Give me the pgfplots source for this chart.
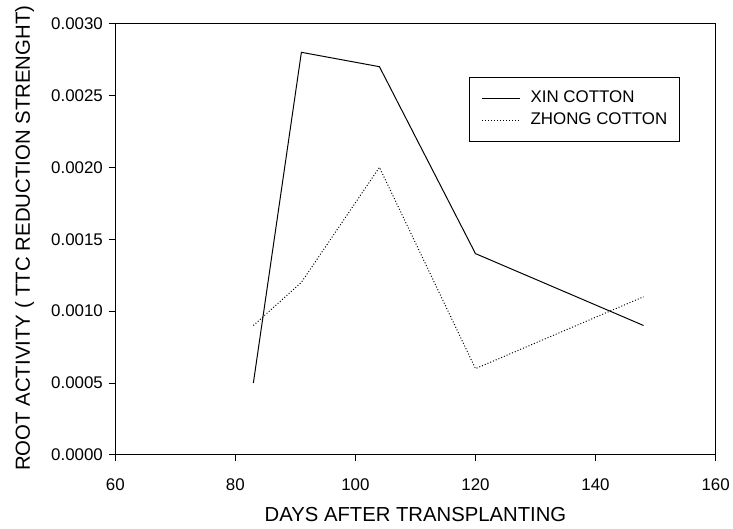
\documentclass[border=0pt]{standalone}
\usepackage{pgfplots}
\pgfplotsset{compat=1.18}
\usepackage{fontspec}
\setmainfont{Liberation Sans}
\begin{document}
\begin{tikzpicture}
\begin{axis}[
  name=ax,
  scale only axis,
  width=604bp, height=434bp,
  xmin=60, xmax=160, ymin=0, ymax=0.003,
  xtick={60,80,100,120,140,160},
  ytick={0,0.0005,0.001,0.0015,0.002,0.0025,0.003},
  yticklabel style={/pgf/number format/fixed, /pgf/number format/fixed zerofill, /pgf/number format/precision=4, xshift=-2.5bp},
  /pgf/number format/assume math mode=true,
  scaled y ticks=false,
  tick align=outside,
  xtick pos=bottom, ytick pos=left,
  major tick length=6.5bp,
  tick style={black, line width=0.9pt},
  axis line style={line width=1pt},
  ticklabel style={font=\fontsize{17bp}{20bp}\selectfont},
  xticklabel style={yshift=-13.5bp},
  xlabel={DAYS AFTER TRANSPLANTING},
  ylabel={ROOT ACTIVITY ( TTC REDUCTION STRENGHT)},
  every axis x label/.style={at={(0.5,0)}, anchor=base, yshift=-67.3bp, font=\fontsize{20.4bp}{24bp}\selectfont},
  every axis y label/.style={at={(0,0.5)}, rotate=90, anchor=base, yshift=86bp, xshift=1bp, font=\fontsize{20.5bp}{24bp}\selectfont},
  legend style={at={(0.590,0.8765)}, anchor=north west, draw=black, line width=1pt,
    font=\fontsize{17bp}{20bp}\selectfont, inner xsep=12bp, inner ysep=13.5bp,
    row sep=5.7bp, column sep=10bp,
    nodes={inner sep=0pt, text height=12bp, text depth=4bp}},
  legend cell align=left,
  legend image code/.code={\draw[#1] (0bp,0bp) -- (38bp,0bp);},
]
\addplot[black, line width=1pt] coordinates {(83,0.0005) (91,0.0028) (104,0.0027) (120,0.0014) (148,0.0009)};
\addlegendentry{XIN COTTON}
\addplot[black, line width=1pt, dotted] coordinates {(83,0.0009) (91,0.0012) (104,0.0020) (120,0.0006) (148,0.0011)};
\addlegendentry{ZHONG COTTON}
\end{axis}
\path ([xshift=-116bp,yshift=-74.3bp]ax.south west) rectangle ([xshift=13bp,yshift=23.7bp]ax.north east);
\end{tikzpicture}
\end{document}
